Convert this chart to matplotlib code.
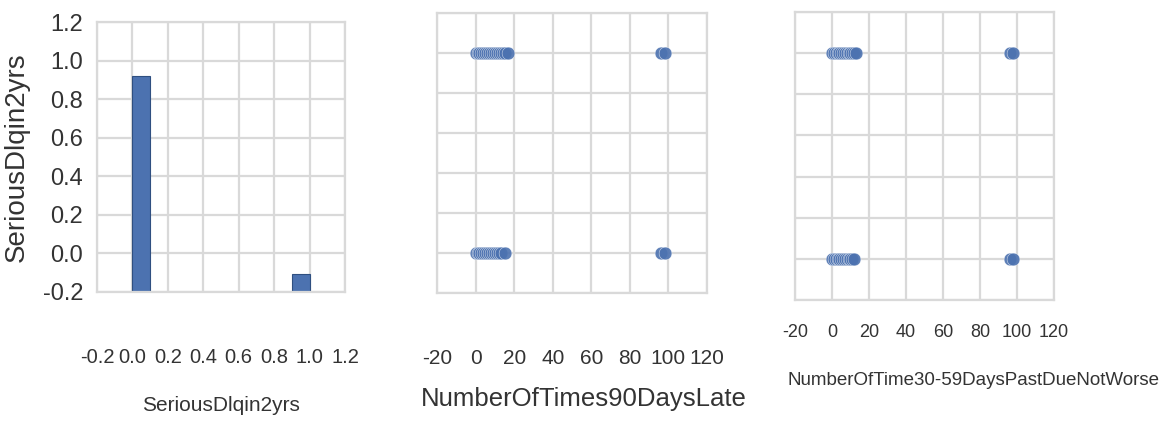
import matplotlib
matplotlib.use("Agg")
import matplotlib.pyplot as plt

# histogram of SeriousDlqin2yrs (bin left edges, bar tops in the shared y units)
hist_left = [0.0, 0.9]
hist_top = [0.92, -0.105]
hist_width = 0.1
hist_base = -0.2

# NumberOfTimes90DaysLate by SeriousDlqin2yrs
late90_y1 = [0, 1, 2, 3, 4, 5, 6, 7, 8, 9, 10, 11, 12, 13, 14, 15, 17, 96, 98]
late90_y0 = [0, 1, 2, 3, 4, 5, 6, 7, 8, 9, 10, 11, 12, 13, 15, 96, 98]

# NumberOfTime30-59DaysPastDueNotWorse by SeriousDlqin2yrs
late3059_y1 = [0, 1, 2, 3, 4, 5, 6, 7, 8, 9, 10, 11, 12, 13, 96, 98]
late3059_y0 = [0, 1, 2, 3, 4, 5, 6, 7, 8, 9, 10, 11, 12, 96, 98]

yticks = [-0.2, 0.0, 0.2, 0.4, 0.6, 0.8, 1.0, 1.2]
xticks1 = [-0.2, 0.0, 0.2, 0.4, 0.6, 0.8, 1.0, 1.2]
xticks2 = [-20, 0, 20, 40, 60, 80, 100, 120]

blue = "#4c72b0"
grid_col = "#d9d9d9"
text_col = "#333333"
fam = ["Liberation Sans", "DejaVu Sans"]

fig = plt.figure(figsize=(11.66, 4.23), dpi=100)
fig.patch.set_facecolor("white")

ax1 = fig.add_axes([97 / 1166, 131 / 423, 248 / 1166, 270 / 423])
ax2 = fig.add_axes([437 / 1166, 130 / 423, 270 / 1166, 280 / 423])
ax3 = fig.add_axes([795 / 1166, 123 / 423, 259 / 1166, 288 / 423])


def style(ax, xt, xlim):
    ax.set_xlim(xlim)
    ax.set_ylim(-0.2, 1.2)
    ax.set_xticks(xt)
    ax.set_yticks(yticks)
    ax.grid(True, color=grid_col, linewidth=1.6)
    ax.set_axisbelow(True)
    for s in ax.spines.values():
        s.set_color(grid_col)
        s.set_linewidth(1.6)
    ax.tick_params(length=0, colors=text_col)


style(ax1, xticks1, (-0.2, 1.2))
ax1.bar(hist_left, [t - hist_base for t in hist_top], width=hist_width,
        bottom=hist_base, align="edge", color=blue, edgecolor="#2f4f80",
        linewidth=0.8)
ax1.set_xticklabels(["%.1f" % v for v in xticks1], family=fam, fontsize=14.5)
ax1.set_yticklabels(["%.1f" % v for v in yticks], family=fam, fontsize=17)
ax1.tick_params(axis="x", pad=40)
ax1.tick_params(axis="y", pad=10)
ax1.set_xlabel("SeriousDlqin2yrs", family=fam, fontsize=15, color=text_col,
               labelpad=21)
ax1.set_ylabel("SeriousDlqin2yrs", family=fam, fontsize=20, color=text_col,
               labelpad=9)

style(ax2, xticks2, (-20, 120))
ax2.scatter(late90_y1, [1] * len(late90_y1), s=85, color=blue, edgecolor="white",
            linewidth=0.3, alpha=0.9)
ax2.scatter(late90_y0, [0] * len(late90_y0), s=85, color=blue, edgecolor="white",
            linewidth=0.3, alpha=0.9)
ax2.set_xticklabels([str(v) for v in xticks2], family=fam, fontsize=15)
ax2.set_yticklabels([])
ax2.tick_params(axis="x", pad=40)
ax2.set_xlabel("NumberOfTimes90DaysLate", family=fam, fontsize=18.5,
               color=text_col)
ax2.xaxis.set_label_coords(0.545, -0.335)

style(ax3, xticks2, (-20, 120))
ax3.scatter(late3059_y1, [1] * len(late3059_y1), s=85, color=blue,
            edgecolor="white", linewidth=0.3, alpha=0.9)
ax3.scatter(late3059_y0, [0] * len(late3059_y0), s=85, color=blue,
            edgecolor="white", linewidth=0.3, alpha=0.9)
ax3.set_xticklabels([str(v) for v in xticks2], family=fam, fontsize=13)
ax3.set_yticklabels([])
ax3.tick_params(axis="x", pad=17)
ax3.set_xlabel("NumberOfTime30-59DaysPastDueNotWorse", family=fam,
               fontsize=13.5, color=text_col)
ax3.xaxis.set_label_coords(0.69, -0.25)

fig.savefig("out.png", dpi=100, facecolor="white")
